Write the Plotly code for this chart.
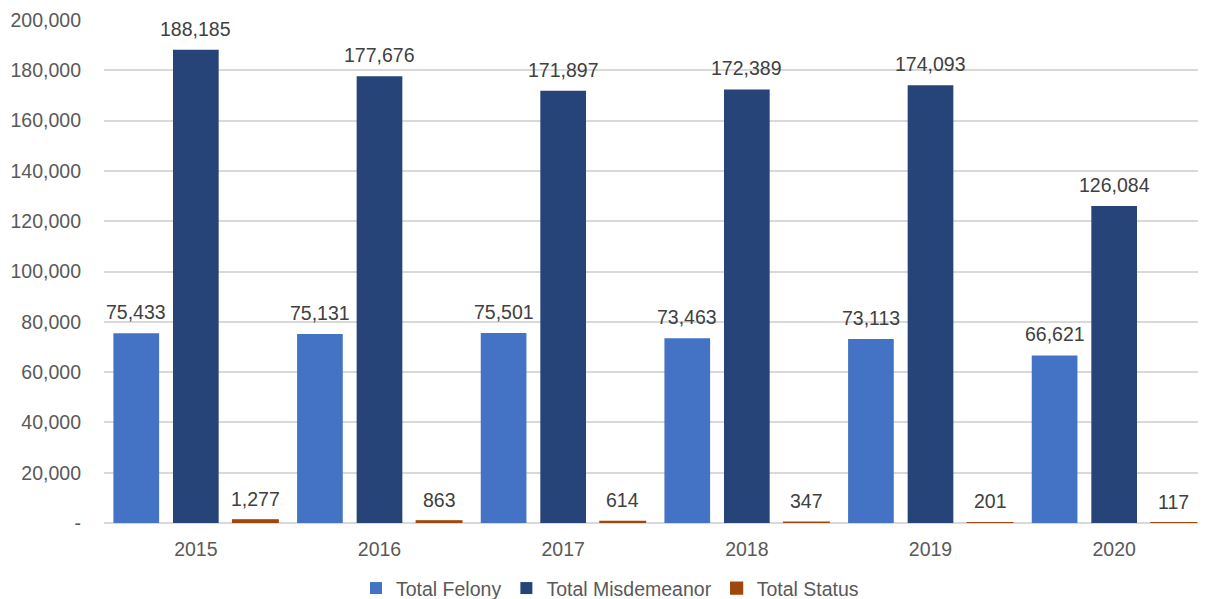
import plotly.graph_objects as go

years = ["2015", "2016", "2017", "2018", "2019", "2020"]
felony = [75433, 75131, 75501, 73463, 73113, 66621]
misdemeanor = [188185, 177676, 171897, 172389, 174093, 126084]
status = [1277, 863, 614, 347, 201, 117]
ytick_vals = [0, 20000, 40000, 60000, 80000, 100000, 120000, 140000, 160000, 180000, 200000]
ytick_text = ["-"] + [f"{v:,}" for v in ytick_vals[1:]]

font_family = "Liberation Sans, Arial, sans-serif"
FS = 19.5
series = [
    ("Total Felony", felony, "#4472C4", 0),
    ("Total Misdemeanor", misdemeanor, "#264478", 0),
    ("Total Status", status, "#9E480E", 1.2),
]
bargap = 0.027
slot = (1 - bargap) / len(series)

fig = go.Figure()
for k, (name, vals, color, lw) in enumerate(series):
    fig.add_trace(go.Bar(
        x=years, y=vals, name=name,
        marker=dict(color=color, line=dict(width=lw, color=color)),
    ))
    for i, v in enumerate(vals):
        fig.add_annotation(
            x=i + (k - 1) * slot, y=v, xref="x", yref="y",
            text=f"{v:,}", showarrow=False, yanchor="bottom", yshift=8,
            font=dict(color="#404040", size=FS, family=font_family),
        )

fig.update_layout(
    width=1198, height=591,
    margin=dict(l=96, r=0, t=12, b=76, autoexpand=False),
    paper_bgcolor="white", plot_bgcolor="white",
    barmode="group", bargap=bargap, bargroupgap=0.233,
    font=dict(family=font_family, color="#595959", size=FS),
    showlegend=True,
    legend=dict(orientation="h", x=0.5025, xanchor="center", xref="container",
                y=-0.13, yanchor="middle", yref="paper",
                font=dict(size=FS, color="#595959"),
                itemwidth=30, tracegroupgap=0),
    xaxis=dict(showgrid=False, ticks="", showline=False, automargin=False,
               ticklabelstandoff=12,
               tickfont=dict(size=FS, color="#595959")),
    yaxis=dict(range=[0, 200000], tickvals=ytick_vals, ticktext=ytick_text,
               showgrid=True, gridcolor="#D9D9D9", gridwidth=1.5,
               zeroline=True, zerolinecolor="#D9D9D9", zerolinewidth=1.5,
               ticks="", ticklabelstandoff=22, automargin=False,
               tickfont=dict(size=FS, color="#595959")),
)

fig.write_html("out.html")
